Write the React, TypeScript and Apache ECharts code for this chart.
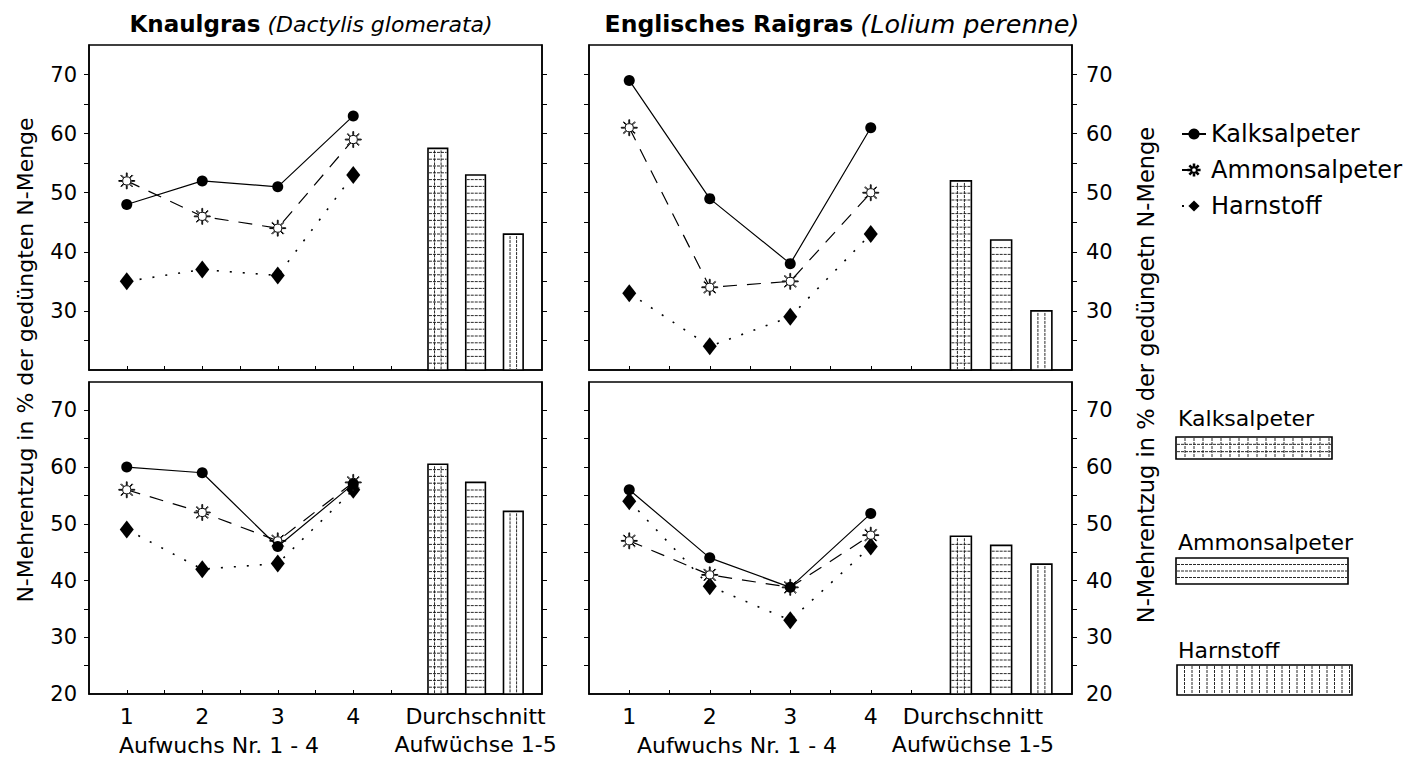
import React, { useEffect, useRef } from "react";
import * as echarts from "echarts";

// ---------- DATA ----------
const growths = ["1", "2", "3", "4"];
const fertilizers = ["Kalksalpeter", "Ammonsalpeter", "Harnstoff"];
const avgLabel = "Durchschnitt\nAufwüchse 1-5";
const xTitle = "Aufwuchs Nr. 1 - 4";

// Knaulgras, upper panel
const knaulTopKalk = [48, 52, 51, 63];
const knaulTopAmmon = [52, 46, 44, 59];
const knaulTopHarn = [35, 37, 36, 53];
const knaulTopAvg = [57.5, 53, 43];

// Englisches Raigras, upper panel
const raiTopKalk = [69, 49, 38, 61];
const raiTopAmmon = [61, 34, 35, 50];
const raiTopHarn = [33, 24, 29, 43];
const raiTopAvg = [52, 42, 30];

// Knaulgras, lower panel
const knaulBotKalk = [60, 59, 46, 57];
const knaulBotAmmon = [56, 52, 47, 57.3];
const knaulBotHarn = [49, 42, 43, 56];
const knaulBotAvg = [60.5, 57.3, 52.2];

// Englisches Raigras, lower panel
const raiBotKalk = [56, 44, 38.8, 51.8];
const raiBotAmmon = [47, 41, 38.8, 48];
const raiBotHarn = [54, 39, 33, 46];
const raiBotAvg = [47.8, 46.2, 42.9];

const yLabelsTop = [30, 40, 50, 60, 70];
const yLabelsBottom = [20, 30, 40, 50, 60, 70];
const yTicks = [25, 30, 35, 40, 45, 50, 55, 60, 65, 70];

// ---------- LAYOUT / STYLE ----------
const FONT = "DejaVu Sans";
const Y_MIN = 20;
const Y_MAX = 75;
const X_MIN = 0.5;
const X_MAX = 6.5;
const BAR_X = [5.12, 5.62, 6.12];
const BAR_W = 0.26;
const xTickVals = [1, 1.5, 2, 2.5, 3, 3.5, 4, 4.5];

function sunPath() {
  let d = "M15,10 A5,5 0 1,1 5,10 A5,5 0 1,1 15,10 Z ";
  for (let k = 0; k < 8; k++) {
    const a = (k * Math.PI) / 4;
    const c = Math.cos(a);
    const s = Math.sin(a);
    const r1 = 5.8;
    const r2 = 9.8;
    const w = 0.5;
    const p = [
      [10 + c * r1 - s * w, 10 + s * r1 + c * w],
      [10 + c * r2 - s * w, 10 + s * r2 + c * w],
      [10 + c * r2 + s * w, 10 + s * r2 - c * w],
      [10 + c * r1 + s * w, 10 + s * r1 - c * w],
    ];
    d += `M${p[0][0].toFixed(2)},${p[0][1].toFixed(2)} L${p[1][0].toFixed(2)},${p[1][1].toFixed(2)} L${p[2][0].toFixed(2)},${p[2][1].toFixed(2)} L${p[3][0].toFixed(2)},${p[3][1].toFixed(2)} Z `;
  }
  return "path://" + d;
}
const SUN = sunPath();

const panels = [
  { grid: { left: 89, right: 872, top: 45, height: 325 }, side: "left", lower: false, avgX: 5.62, kalk: knaulTopKalk, ammon: knaulTopAmmon, harn: knaulTopHarn, avg: knaulTopAvg },
  { grid: { left: 589, right: 342, top: 45, height: 325 }, side: "right", lower: false, avgX: 5.27, kalk: raiTopKalk, ammon: raiTopAmmon, harn: raiTopHarn, avg: raiTopAvg },
  { grid: { left: 89, right: 872, top: 382, height: 312 }, side: "left", lower: true, avgX: 5.62, kalk: knaulBotKalk, ammon: knaulBotAmmon, harn: knaulBotHarn, avg: knaulBotAvg },
  { grid: { left: 589, right: 342, top: 382, height: 312 }, side: "right", lower: true, avgX: 5.27, kalk: raiBotKalk, ammon: raiBotAmmon, harn: raiBotHarn, avg: raiBotAvg },
];

const hatchStyle = { stroke: "#111", lineWidth: 0.9, lineDash: [3, 1] };

function barRender(params: any, api: any) {
  const idx = params.dataIndex;
  const xv = api.value(0);
  const yv = api.value(1);
  const tl = api.coord([xv - BAR_W / 2, yv]);
  const br = api.coord([xv + BAR_W / 2, Y_MIN]);
  const x0 = tl[0];
  const y0 = tl[1];
  const w = br[0] - tl[0];
  const h = br[1] - tl[1];
  const children: any[] = [
    { type: "rect", shape: { x: x0, y: y0, width: w, height: h }, style: { fill: "#fff", stroke: "#000", lineWidth: 1.6 } },
  ];
  if (idx === 0 || idx === 1) {
    for (let y = y0 + h - 6.8; y > y0 + 2; y -= 6.8) {
      children.push({ type: "line", shape: { x1: x0 + 1, y1: y, x2: x0 + w - 1, y2: y }, style: hatchStyle });
    }
  }
  if (idx === 0 || idx === 2) {
    for (let k = 1; k < 3; k++) {
      const x = x0 + (w * k) / 3;
      children.push({ type: "line", shape: { x1: x, y1: y0 + 2, x2: x, y2: y0 + h - 1 }, style: hatchStyle });
    }
  }
  return { type: "group", children };
}

function buildOption() {
  const grids: any[] = [];
  const xAxes: any[] = [];
  const yAxes: any[] = [];
  const series: any[] = [];
  const lineStyleBase = { color: "#000" };

  panels.forEach((p, i) => {
    grids.push({ ...p.grid, show: true, borderColor: "#000", borderWidth: 1.5, backgroundColor: "transparent", containLabel: false });
    xAxes.push({
      type: "value",
      gridIndex: i,
      min: X_MIN,
      max: X_MAX,
      splitLine: { show: false },
      axisLine: { show: true, onZero: false, lineStyle: { color: "#000", width: 1.5 } },
      axisTick: { show: true, inside: true, length: 4, customValues: xTickVals, lineStyle: { color: "#000", width: 1 } },
      axisLabel: {
        show: p.lower,
        customValues: [1, 2, 3, 4, p.avgX],
        formatter: (v: number) => (v > 4.5 ? avgLabel : growths[Math.round(v) - 1]),
        color: "#000",
        fontSize: 22,
        fontFamily: FONT,
        lineHeight: 28,
        margin: 8,
      },
    });
    const labels = p.lower ? yLabelsBottom : yLabelsTop;
    ["left", "right"].forEach((pos) => {
      yAxes.push({
        type: "value",
        gridIndex: i,
        position: pos,
        min: Y_MIN,
        max: Y_MAX,
        splitLine: { show: false },
        axisLine: { show: true, lineStyle: { color: "#000", width: 1.5 } },
        axisTick: { show: true, inside: false, length: 5, customValues: yTicks, lineStyle: { color: "#000", width: 1 } },
        axisLabel: {
          show: pos === p.side,
          customValues: labels,
          color: "#000",
          fontSize: 21,
          fontFamily: FONT,
          margin: pos === "left" ? 12 : 14,
        },
      });
    });
    const yIdx = i * 2;
    const pts = (arr: number[]) => arr.map((v, k) => [k + 1, v]);
    series.push({
      name: fertilizers[0],
      type: "line",
      xAxisIndex: i,
      yAxisIndex: yIdx,
      data: pts(p.kalk),
      symbol: "circle",
      symbolSize: 11,
      itemStyle: { color: "#000" },
      lineStyle: { ...lineStyleBase, width: 1.2, type: "solid" },
      z: 5,
    });
    series.push({
      name: fertilizers[1],
      type: "line",
      xAxisIndex: i,
      yAxisIndex: yIdx,
      data: pts(p.ammon),
      symbol: SUN,
      symbolSize: 16,
      itemStyle: { color: "#fff", borderColor: "#000", borderWidth: 1 },
      lineStyle: { ...lineStyleBase, width: 1.2, type: [14, 10] },
      z: 4,
    });
    series.push({
      name: fertilizers[2],
      type: "line",
      xAxisIndex: i,
      yAxisIndex: yIdx,
      data: pts(p.harn),
      symbol: "diamond",
      symbolSize: [14, 18],
      itemStyle: { color: "#000" },
      lineStyle: { ...lineStyleBase, width: 1.6, type: [2, 11] },
      z: 3,
    });
    series.push({
      name: "Durchschnitt " + i,
      type: "custom",
      xAxisIndex: i,
      yAxisIndex: yIdx,
      data: p.avg.map((v, k) => [BAR_X[k], v]),
      encode: { x: 0, y: 1 },
      renderItem: barRender,
      z: 2,
    });
  });

  const graphic: any[] = [];
  // Titles
  graphic.push({
    type: "text",
    x: 311,
    y: 24,
    style: {
      text: "{b|Knaulgras} {i|(Dactylis glomerata)}",
      fontSize: 22,
      fontFamily: FONT,
      fill: "#000",
      align: "center",
      verticalAlign: "middle",
      rich: {
        b: { fontWeight: "bold", fontSize: 23, fontFamily: FONT, fill: "#000" },
        i: { fontStyle: "italic", fontSize: 22, fontFamily: FONT, fill: "#000" },
      },
    },
  });
  graphic.push({
    type: "text",
    x: 842,
    y: 24,
    style: {
      text: "{b|Englisches Raigras} {i|(Lolium perenne)}",
      fontSize: 22,
      fontFamily: FONT,
      fill: "#000",
      align: "center",
      verticalAlign: "middle",
      rich: {
        b: { fontWeight: "bold", fontSize: 23.5, fontFamily: FONT, fill: "#000" },
        i: { fontStyle: "italic", fontSize: 25.5, fontFamily: FONT, fill: "#000" },
      },
    },
  });
  // Y axis titles
  graphic.push({
    type: "text",
    x: 25,
    y: 360,
    rotation: Math.PI / 2,
    style: { text: "N-Mehrentzug in % der gedüngten N-Menge", fontSize: 22, fontFamily: FONT, fill: "#000", align: "center", verticalAlign: "middle" },
  });
  graphic.push({
    type: "text",
    x: 1146,
    y: 375,
    rotation: Math.PI / 2,
    style: { text: "N-Mehrentzug in % der gedüngetn N-Menge", fontSize: 22.5, fontFamily: FONT, fill: "#000", align: "center", verticalAlign: "middle" },
  });
  // x titles
  [219, 737].forEach((x) => {
    graphic.push({
      type: "text",
      x,
      y: 745,
      style: { text: xTitle, fontSize: 22, fontFamily: FONT, fill: "#000", align: "center", verticalAlign: "middle" },
    });
  });

  // Bar legend
  const boxes = [
    { label: fertilizers[0], ty: 418, x: 1176, y: 437, w: 156, h: 22, kind: 0 },
    { label: fertilizers[1], ty: 542, x: 1176, y: 558, w: 172, h: 26, kind: 1 },
    { label: fertilizers[2], ty: 650, x: 1177, y: 665, w: 175, h: 30, kind: 2 },
  ];
  boxes.forEach((b) => {
    graphic.push({
      type: "text",
      x: 1178,
      y: b.ty,
      style: { text: b.label, fontSize: 22, fontFamily: FONT, fill: "#000", align: "left", verticalAlign: "middle" },
    });
    graphic.push({
      type: "rect",
      shape: { x: b.x, y: b.y, width: b.w, height: b.h },
      style: { fill: "#fff", stroke: "#000", lineWidth: 1.6 },
    });
    if (b.kind === 0 || b.kind === 1) {
      const n = b.kind === 0 ? 3 : 4;
      for (let k = 1; k < n; k++) {
        const y = b.y + (b.h * k) / n;
        graphic.push({ type: "line", shape: { x1: b.x + 1, y1: y, x2: b.x + b.w - 1, y2: y }, style: hatchStyle });
      }
    }
    if (b.kind === 0 || b.kind === 2) {
      const step = b.kind === 0 ? 9 : 7.5;
      for (let x = b.x + step; x < b.x + b.w - 2; x += step) {
        graphic.push({ type: "line", shape: { x1: x, y1: b.y + 1, x2: x, y2: b.y + b.h - 1 }, style: hatchStyle });
      }
    }
  });

  return {
    animation: false,
    backgroundColor: "#fff",
    textStyle: { fontFamily: FONT },
    grid: grids,
    xAxis: xAxes,
    yAxis: yAxes,
    series,
    legend: {
      data: fertilizers.map((name) => ({ name })),
      orient: "vertical",
      left: 1176,
      top: 117,
      itemWidth: 24,
      itemHeight: 14,
      itemGap: 12,
      selectedMode: false,
      textStyle: { fontSize: 24, fontFamily: FONT, color: "#000" },
    },
    graphic,
  };
}

export default function App() {
  const ref = useRef<HTMLDivElement>(null);
  useEffect(() => {
    document.body.style.margin = "0";
    if (!ref.current) return;
    const chart = echarts.init(ref.current, null, { renderer: "svg" });
    chart.setOption(buildOption() as any);
    return () => chart.dispose();
  }, []);
  return <div ref={ref} style={{ width: 1414, height: 760, overflow: "hidden" }} />;
}
